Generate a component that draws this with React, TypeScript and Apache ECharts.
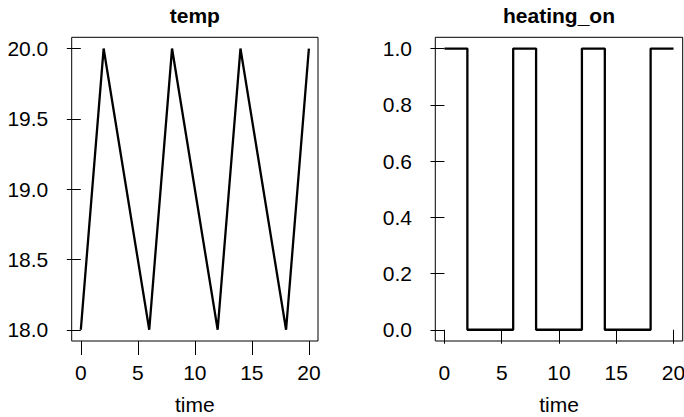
import React, { useEffect, useRef } from "react";
import * as echarts from "echarts";

const times = [0, 2, 6, 8, 12, 14, 18, 20];
const tempValues = [18, 20, 18, 20, 18, 20, 18, 20];
const heatingValues = [1, 0, 1, 0, 1, 0, 1, 1];
const xTicks = [0, 5, 10, 15, 20];
const tempTicks = [18, 18.5, 19, 19.5, 20];
const heatingTicks = [0, 0.2, 0.4, 0.6, 0.8, 1.0];
const panelTitles = ["temp", "heating_on"];
const xName = "time";

const FONT = "'Liberation Sans', Arial, Helvetica, sans-serif";
const FS = 21;

export default function App() {
  const ref = useRef<HTMLDivElement>(null);
  useEffect(() => {
    if (!ref.current) return;
    const chart = echarts.init(ref.current, null, { renderer: "svg" });
    const grids = [
      { left: 71.7, top: 37.3, width: 246.3, height: 303.7 },
      { left: 435.3, top: 37.3, width: 247.4, height: 303.7 },
    ];
    const xAxisBase = (gi: number) => ({
      type: "value",
      gridIndex: gi,
      min: -0.8,
      max: 20.8,
      axisLine: { show: false },
      splitLine: { show: false },
      axisTick: {
        show: true,
        length: 14,
        customValues: xTicks,
        lineStyle: { color: "#000", width: 1 },
      },
      axisLabel: {
        customValues: xTicks,
        margin: 20.5,
        color: "#000",
        fontSize: FS,
        fontFamily: FONT,
        formatter: (v: number) => String(v),
      },
    });
    const yAxisBase = (gi: number, min: number, max: number, ticks: number[]) => ({
      type: "value",
      gridIndex: gi,
      min,
      max,
      axisLine: { show: false },
      splitLine: { show: false },
      axisTick: {
        show: true,
        length: 14,
        customValues: ticks,
        lineStyle: { color: "#000", width: 1 },
      },
      axisLabel: {
        customValues: ticks,
        margin: 23.4,
        color: "#000",
        fontSize: FS,
        fontFamily: FONT,
        formatter: (v: number) => v.toFixed(1),
      },
    });
    const textEl = (x: number, y: number, text: string, bold: boolean) => ({
      type: "text",
      x,
      y,
      style: {
        text,
        fill: "#000",
        font: `${bold ? "bold " : ""}${FS}px ${FONT}`,
        align: "center",
        verticalAlign: "middle",
      },
    });
    chart.setOption({
      animation: false,
      backgroundColor: "#fff",
      grid: grids.map((g) => ({
        ...g,
        containLabel: false,
        outerBoundsMode: "none",
        show: true,
        borderColor: "#000",
        borderWidth: 1,
        backgroundColor: "transparent",
      })),
      xAxis: [xAxisBase(0), xAxisBase(1)],
      yAxis: [
        yAxisBase(0, 17.92, 20.08, tempTicks),
        yAxisBase(1, -0.04, 1.04, heatingTicks),
      ],
      series: [
        {
          type: "line",
          xAxisIndex: 0,
          yAxisIndex: 0,
          data: times.map((t, i) => [t, tempValues[i]]),
          symbol: "none",
          lineStyle: { color: "#000", width: 2.3 },
        },
        {
          type: "line",
          xAxisIndex: 1,
          yAxisIndex: 1,
          step: "end",
          data: times.map((t, i) => [t, heatingValues[i]]),
          symbol: "none",
          lineStyle: { color: "#000", width: 2.3 },
        },
      ],
      graphic: [
        textEl(grids[0].left + grids[0].width / 2, 15.4, panelTitles[0], true),
        textEl(grids[1].left + grids[1].width / 2, 15.4, panelTitles[1], true),
        textEl(grids[0].left + grids[0].width / 2, 404.4, xName, false),
        textEl(grids[1].left + grids[1].width / 2, 404.4, xName, false),
      ],
    });
    return () => chart.dispose();
  }, []);
  return (
    <div
      ref={ref}
      style={{ position: "fixed", left: 0, top: 0, width: 684, height: 417 }}
    />
  );
}
